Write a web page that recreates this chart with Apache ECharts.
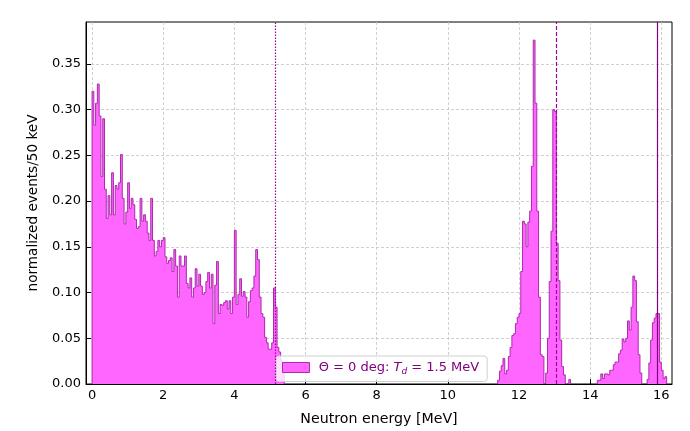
<!DOCTYPE html>
<html lang="en">
<head>
    <meta charset="UTF-8">
    <title>Neutron energy spectrum</title>
    <script src="https://cdn.jsdelivr.net/npm/echarts@6/dist/echarts.min.js"></script>
    <style>
        html, body { margin: 0; padding: 0; background: #fff; }
        #main { width: 690px; height: 431px; }
    </style>
</head>
<body>
<div id="main"></div>
<script>
    // bin width in MeV (50 keV)
    const binWidth = 0.05;

    // low energy continuum, bins starting at 0 MeV
    const lowStart = 0.0;
    const lowCounts = [
        0.32, 0.283, 0.307, 0.328, 0.293, 0.227, 0.29, 0.213, 0.181, 0.206,
        0.185, 0.231, 0.185, 0.217, 0.213, 0.22, 0.251, 0.203, 0.175, 0.188,
        0.22, 0.192, 0.203, 0.196, 0.18, 0.17, 0.172, 0.203, 0.178, 0.185,
        0.178, 0.165, 0.157, 0.203, 0.157, 0.14, 0.145, 0.157, 0.15, 0.157,
        0.16, 0.139, 0.132, 0.135, 0.138, 0.123, 0.147, 0.129, 0.095, 0.14,
        0.129, 0.129, 0.14, 0.11, 0.105, 0.116, 0.095, 0.105, 0.126, 0.107,
        0.12, 0.107, 0.098, 0.1, 0.112, 0.122, 0.105, 0.12, 0.066, 0.108,
        0.134, 0.077, 0.087, 0.086, 0.089, 0.091, 0.082, 0.091, 0.077, 0.095,
        0.168, 0.087, 0.098, 0.115, 0.096, 0.101, 0.095, 0.073, 0.09, 0.102,
        0.105, 0.118, 0.147, 0.136, 0.095, 0.077, 0.073, 0.051, 0.045, 0.038,
        0.038, 0.045, 0.105, 0.084, 0.04, 0.035, 0.025, 0.015
    ];

    // peaks around 12.4 and 13 MeV
    const peak12Start = 11.40;
    const peak12Counts = [
        0.004, 0.014, 0.02, 0.028, 0.011, 0.015, 0.03, 0.04, 0.053, 0.055,
        0.066, 0.073, 0.077, 0.123, 0.178, 0.175, 0.15, 0.177, 0.189, 0.238,
        0.376, 0.307, 0.189, 0.095, 0.032, 0.03, 0, 0.012, 0.05, 0.112,
        0.167, 0.30, 0.298, 0.154, 0.113, 0.048, 0.019, 0.01, 0, 0, 0.005
    ];

    // peak around 15.2 MeV
    const peak15Start = 14.20;
    const peak15Counts = [
        0.004, 0.004, 0.011, 0.006, 0.011, 0.011, 0.01, 0.015, 0.015, 0.021,
        0.024, 0.024, 0.033, 0.037, 0.049, 0.046, 0.05, 0.069, 0.059, 0.084,
        0.118, 0.113, 0.068, 0.032, 0.012
    ];

    // peak around 15.9 MeV
    const peak16Start = 15.60;
    const peak16Counts = [0.005, 0.023, 0.048, 0.067, 0.072, 0.077, 0.077, 0.024, 0.015, 0.006, 0.008];

    // vertical reference lines [MeV]
    const refLines = [5.14, 13.05, 15.88];

    const xTicks = [0, 2, 4, 6, 8, 10, 12, 14, 16];
    const yTicks = [0, 0.05, 0.10, 0.15, 0.20, 0.25, 0.30, 0.35];

    const seriesName = 'theta0';
    const segments = [
        [lowStart, lowCounts],
        [peak12Start, peak12Counts],
        [peak15Start, peak15Counts],
        [peak16Start, peak16Counts]
    ];

    const font = 'DejaVu Sans';
    const fillColor = '#ff66ff';
    const edgeColor = '#ad2aad';
    const lineStyles = [[1.5, 1.5], [4, 2], 'solid'];
    const lineColors = ['#a000a0', '#a000a0', '#800080'];

    // stepfilled histogram: one polygon + outline per segment, mapped through the axes
    function renderHist(params, api) {
        let start = segments[params.dataIndex][0];
        let counts = segments[params.dataIndex][1];
        let pts = [api.coord([start, 0])];
        counts.forEach((c, i) => {
            pts.push(api.coord([start + i * binWidth, c]));
            pts.push(api.coord([start + (i + 1) * binWidth, c]));
        });
        pts.push(api.coord([start + counts.length * binWidth, 0]));
        return {
            type: 'group',
            children: [
                {type: 'polygon', shape: {points: pts}, style: {fill: fillColor, stroke: null}},
                {type: 'polyline', shape: {points: pts}, style: {fill: null, stroke: edgeColor, lineWidth: 1}}
            ]
        };
    }

    let myChart = echarts.init(document.getElementById('main'), null, {renderer: 'canvas'});
    let option = {
        animation: false,
        textStyle: {fontFamily: font},
        grid: {
            left: 86, right: 18, top: 22, bottom: 44,
            show: true, borderColor: '#000', borderWidth: 1, backgroundColor: 'transparent'
        },
        legend: {
            left: 276, top: 356,
            padding: [5, 8, 5, 6],
            backgroundColor: 'rgba(255,255,255,0.8)',
            borderColor: '#d0d0d0', borderWidth: 1, borderRadius: 3,
            itemWidth: 27, itemHeight: 10,
            data: [{
                name: seriesName, icon: 'rect',
                itemStyle: {color: fillColor, borderColor: edgeColor, borderWidth: 1}
            }],
            formatter: () => '{n| Θ = 0 deg: }{i|T}{s|d}{n| = 1.5 MeV}',
            textStyle: {
                color: '#800080',
                rich: {
                    n: {fontFamily: font, fontSize: 13, color: '#800080', lineHeight: 18, verticalAlign: 'middle'},
                    i: {fontFamily: font, fontSize: 13, fontStyle: 'italic', color: '#800080', lineHeight: 18, verticalAlign: 'middle'},
                    s: {fontFamily: font, fontSize: 9, fontStyle: 'italic', color: '#800080', lineHeight: 18, verticalAlign: 'bottom', padding: [5, 0, 0, 0]}
                }
            }
        },
        xAxis: {
            type: 'value',
            min: -0.17, max: 16.3,
            name: 'Neutron energy [MeV]',
            nameLocation: 'middle', nameGap: 28,
            nameTextStyle: {fontSize: 14.2, color: '#000', fontFamily: font},
            axisLine: {show: true, onZero: false, lineStyle: {color: '#000', width: 1}},
            axisTick: {show: true, inside: true, length: 5, customValues: xTicks, lineStyle: {color: '#000'}},
            axisLabel: {customValues: xTicks, fontSize: 13, color: '#000', margin: 5, fontFamily: font},
            splitLine: {show: true, lineStyle: {color: '#c4c4c4', type: [3, 2], width: 0.8}}
        },
        yAxis: {
            type: 'value',
            min: 0, max: 0.3958,
            name: 'normalized events/50 keV',
            nameLocation: 'middle', nameGap: 46,
            nameTextStyle: {fontSize: 13.6, color: '#000', fontFamily: font},
            axisLine: {show: true, onZero: false, lineStyle: {color: '#000', width: 1}},
            axisTick: {show: true, inside: true, length: 5, customValues: yTicks, lineStyle: {color: '#000'}},
            axisLabel: {customValues: yTicks, fontSize: 13, color: '#000', margin: 5, fontFamily: font,
                formatter: v => v.toFixed(2)},
            splitLine: {show: true, lineStyle: {color: '#c4c4c4', type: [3, 2], width: 0.8}}
        },
        series: [{
            name: seriesName,
            type: 'custom',
            renderItem: renderHist,
            data: segments.map(s => [s[0], 0]),
            encode: {x: 0, y: 1},
            clip: true,
            itemStyle: {color: fillColor},
            z: 2,
            markLine: {
                silent: true,
                symbol: 'none',
                label: {show: false},
                data: refLines.map((x, i) => ({
                    xAxis: x,
                    lineStyle: {color: lineColors[i], width: 1.2, type: lineStyles[i]}
                }))
            }
        }]
    };
    myChart.setOption(option);
</script>
</body>
</html>
